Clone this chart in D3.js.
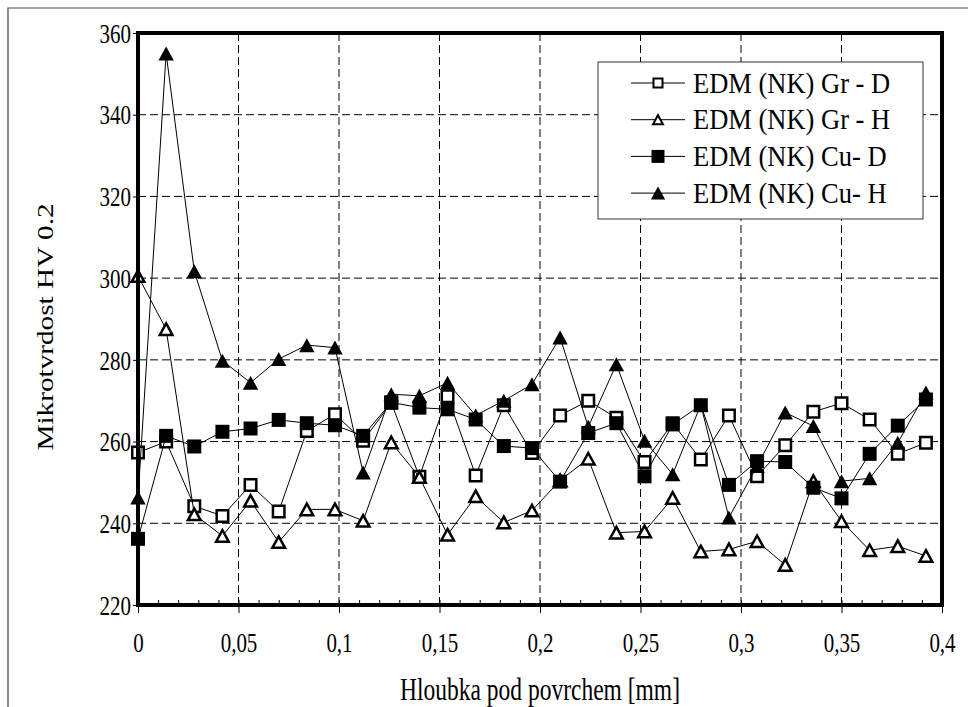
<!DOCTYPE html>
<html>
<head>
<meta charset="utf-8">
<script src="https://cdn.jsdelivr.net/npm/d3@7"></script>
<style>
    body { margin: 0; background: #fff; }
</style>
</head>
<body>
<div id="chart"></div>
<script>
// hloubka pod povrchem [mm]
const depths = [0, 0.014, 0.028, 0.042, 0.056, 0.07, 0.084, 0.098, 0.112, 0.126, 0.14, 0.154, 0.168, 0.182,
    0.196, 0.21, 0.224, 0.238, 0.252, 0.266, 0.28, 0.294, 0.308, 0.322, 0.336, 0.35, 0.364, 0.378, 0.392];

const grD = [257.3, 260, 244.2, 241.8, 249.4, 242.9, 262.6, 266.7, 260.2, 269.5, 251.4, 271.1, 251.7, 268.9,
    257.2, 266.4, 270, 265.8, 255, 264.5, 255.6, 266.4, 251.5, 259.1, 267.3, 269.4, 265.4, 257, 259.7];
const grH = [300.5, 287.5, 242.2, 236.9, 245.5, 235.4, 243.4, 243.4, 240.6, 259.8, 251.3, 237.2, 246.6, 240.2,
    243.1, 250.5, 255.8, 237.7, 238, 246.2, 233.1, 233.6, 235.6, 229.8, 250.3, 240.5, 233.4, 234.4, 232];
const cuD = [236.2, 261.4, 258.8, 262.4, 263.2, 265.3, 264.5, 264, 261.4, 269.6, 268.3, 267.9, 265.4, 258.9,
    258.4, 250.2, 262.1, 264.5, 251.5, 264.2, 268.9, 249.4, 255.2, 255, 248.7, 246.1, 257, 263.9, 270.3];
const cuH = [246.3, 355, 301.7, 279.8, 274.4, 280.2, 283.6, 283, 252.4, 271.6, 271.2, 274.4, 266.4, 270,
    274, 285.5, 263.6, 278.9, 260.2, 252, 269, 241.4, 254, 267.1, 263.8, 250.3, 251, 259.7, 272];

const seriesNames = ["EDM (NK) Gr - D", "EDM (NK) Gr - H", "EDM (NK) Cu- D", "EDM (NK) Cu- H"];
const xTicks = [0, 0.05, 0.1, 0.15, 0.2, 0.25, 0.3, 0.35, 0.4];
const yTicks = [220, 240, 260, 280, 300, 320, 340, 360];

const series = [
    { name: seriesNames[0], values: grD, shape: "square", filled: false },
    { name: seriesNames[1], values: grH, shape: "triangle", filled: false },
    { name: seriesNames[2], values: cuD, shape: "square", filled: true },
    { name: seriesNames[3], values: cuH, shape: "triangle", filled: true }
];

const fontFamily = "'Liberation Serif', 'Times New Roman', serif";
const stretch = 1.3; // text v originale je svisle roztazeny
const width = 968, height = 707;
const plot = { left: 138, top: 33, right: 942, bottom: 605 };

const svg = d3.select("#chart").append("svg")
    .attr("width", width)
    .attr("height", height);

svg.append("rect").attr("width", width).attr("height", height).attr("fill", "#fff");

// tenky ramecek okolo celeho grafu
svg.append("path")
    .attr("d", `M8,${height} L8,8 L${width},8`)
    .attr("fill", "none")
    .attr("stroke", "#444")
    .attr("stroke-width", 1.2);

const x = d3.scaleLinear().domain([0, 0.4]).range([plot.left, plot.right]);
const y = d3.scaleLinear().domain([220, 360]).range([plot.bottom, plot.top]);

const commaFormat = value => String(+value.toFixed(2)).replace(".", ",");

// mrizka
svg.append("g").selectAll("line")
    .data(yTicks.slice(1, -1))
    .enter().append("line")
    .attr("x1", plot.left).attr("x2", plot.right)
    .attr("y1", d => y(d)).attr("y2", d => y(d))
    .attr("stroke", "#000").attr("stroke-width", 1)
    .attr("stroke-dasharray", "8,4");

svg.append("g").selectAll("line")
    .data(xTicks.slice(1, -1))
    .enter().append("line")
    .attr("x1", d => x(d)).attr("x2", d => x(d))
    .attr("y1", plot.top).attr("y2", plot.bottom)
    .attr("stroke", "#000").attr("stroke-width", 1)
    .attr("stroke-dasharray", "8,4");

// osa x: hlavni znacky ven, vedlejsi dovnitr
const xAxis = svg.append("g")
    .attr("transform", `translate(0,${plot.bottom})`)
    .call(d3.axisBottom(x).tickValues(xTicks).tickSize(8).tickFormat(commaFormat));
xAxis.select(".domain").remove();
xAxis.selectAll(".tick text")
    .attr("y", 0)
    .attr("dy", 0)
    .attr("transform", `translate(0,47) scale(1,${stretch})`);

svg.append("g")
    .attr("transform", `translate(0,${plot.bottom})`)
    .call(d3.axisBottom(x).ticks(40).tickSize(-5).tickFormat(""))
    .call(g => g.select(".domain").remove());

const yAxis = svg.append("g")
    .attr("transform", `translate(${plot.left},0)`)
    .call(d3.axisLeft(y).tickValues(yTicks).tickSize(5).tickPadding(2));
yAxis.select(".domain").remove();
yAxis.selectAll(".tick text")
    .attr("dy", "0.34em")
    .attr("transform", `scale(1,${stretch})`);

svg.selectAll(".tick text")
    .style("font-family", fontFamily)
    .style("font-size", "21px")
    .attr("fill", "#000");

// data
const line = d3.line()
    .x((d, i) => x(depths[i]))
    .y(d => y(d));

const markerPath = (shape, size) => {
    if (shape === "square") {
        const h = size / 2;
        return `M${-h},${-h}H${h}V${h}H${-h}Z`;
    }
    const w = size * 1.1 / 2, h = size / 2;
    return `M0,${-h}L${w},${h}L${-w},${h}Z`;
};

series.forEach(s => {
    const g = svg.append("g");
    g.append("path")
        .datum(s.values)
        .attr("d", line)
        .attr("fill", "none")
        .attr("stroke", "#000")
        .attr("stroke-width", 1);

    g.selectAll("path.marker")
        .data(s.values)
        .enter().append("path")
        .attr("class", "marker")
        .attr("transform", (d, i) => `translate(${x(depths[i])},${y(d)})`)
        .attr("d", s.filled ? markerPath(s.shape, 14) : markerPath(s.shape, 11.5))
        .attr("fill", s.filled ? "#000" : "#fff")
        .attr("stroke", "#000")
        .attr("stroke-width", s.filled ? 0 : 2.5);
});

// ramecek plochy grafu
svg.append("rect")
    .attr("x", plot.left).attr("y", plot.top)
    .attr("width", plot.right - plot.left).attr("height", plot.bottom - plot.top)
    .attr("fill", "none")
    .attr("stroke", "#000")
    .attr("stroke-width", 4);

// legenda
const legend = svg.append("g").attr("transform", "translate(598,62)");
legend.append("rect")
    .attr("width", 325).attr("height", 157)
    .attr("fill", "#fff")
    .attr("stroke", "#333")
    .attr("stroke-width", 1);

const legendRows = legend.selectAll("g.row")
    .data(series)
    .enter().append("g")
    .attr("class", "row")
    .attr("transform", (d, i) => `translate(0,${21 + i * 36.7})`);

legendRows.append("line")
    .attr("x1", 33).attr("x2", 87)
    .attr("stroke", "#000").attr("stroke-width", 1);

legendRows.append("path")
    .attr("transform", "translate(60,0)")
    .attr("d", d => d.filled ? markerPath(d.shape, 13) : markerPath(d.shape, 9))
    .attr("fill", d => d.filled ? "#000" : "#fff")
    .attr("stroke", "#000")
    .attr("stroke-width", d => d.filled ? 0 : 2);

legendRows.append("text")
    .attr("x", 95)
    .attr("transform", "scale(1,1.08)")
    .attr("dy", "0.34em")
    .style("font-family", fontFamily)
    .style("font-size", "26.5px")
    .text(d => d.name);

// popisky os
svg.append("text")
    .attr("transform", `translate(${(plot.left + plot.right) / 2},700) scale(1,${stretch})`)
    .attr("text-anchor", "middle")
    .style("font-family", fontFamily)
    .style("font-size", "23.5px")
    .text("Hloubka pod povrchem [mm]");

svg.append("text")
    .attr("transform", `translate(53,327) rotate(-90) scale(${stretch},1)`)
    .attr("text-anchor", "middle")
    .style("font-family", fontFamily)
    .style("font-size", "22.5px")
    .text("Mikrotvrdost HV 0.2");
</script>
</body>
</html>
